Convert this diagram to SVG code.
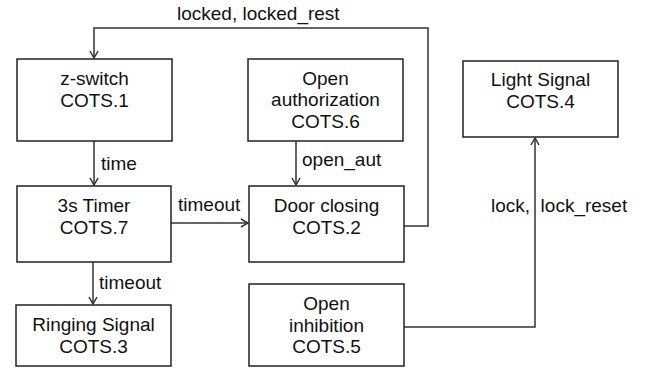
<svg xmlns="http://www.w3.org/2000/svg" width="647" height="368" viewBox="0 0 647 368">
<style>
.box{fill:#fff;stroke:#222;stroke-width:1.5}
.t{font-family:"Liberation Sans",Arial,sans-serif;font-size:19px;fill:#111;text-anchor:middle}
.l{font-family:"Liberation Sans",Arial,sans-serif;font-size:19px;fill:#111}
.c{fill:none;stroke:#333;stroke-width:1.5}
</style>
<defs>
<marker id="a" viewBox="0 0 10 10" refX="9" refY="5" markerWidth="10" markerHeight="10" markerUnits="userSpaceOnUse" orient="auto">
<polyline points="2,1 9,5 2,9" fill="none" stroke="#333" stroke-width="1.5"/>
</marker>
</defs>
<g id="connectors">
<polyline class="c" points="404,226 428,226 428,28 94,28 94,58" marker-end="url(#a)"/>
<line class="c" x1="94" y1="141" x2="94" y2="185" marker-end="url(#a)"/>
<line class="c" x1="296" y1="141" x2="296" y2="185" marker-end="url(#a)"/>
<line class="c" x1="171" y1="223" x2="248" y2="223" marker-end="url(#a)"/>
<line class="c" x1="93" y1="262" x2="93" y2="304" marker-end="url(#a)"/>
<polyline class="c" points="404,327 535,327 535,138" marker-end="url(#a)"/>
<text class="l" x="177" y="20">locked, locked_rest</text>
<text class="l" x="101" y="170">time</text>
<text class="l" x="302" y="166">open_aut</text>
<text class="l" x="178" y="211">timeout</text>
<text class="l" x="99" y="289">timeout</text>
<text class="l" x="491" y="212" xml:space="preserve">lock,  lock_reset</text>
</g>
<g id="zswitch">
<rect class="box" x="17" y="59" width="155" height="82"/>
<text class="t" x="94.5" y="85">z-switch</text>
<text class="t" x="94.5" y="107">COTS.1</text>
</g>
<g id="openauth">
<rect class="box" x="248" y="59" width="155" height="82"/>
<text class="t" x="325.5" y="85">Open</text>
<text class="t" x="325.5" y="106">authorization</text>
<text class="t" x="325.5" y="128">COTS.6</text>
</g>
<g id="timer">
<rect class="box" x="17" y="186" width="154" height="76"/>
<text class="t" x="94" y="212">3s Timer</text>
<text class="t" x="94" y="234">COTS.7</text>
</g>
<g id="doorclosing">
<rect class="box" x="249" y="186" width="155" height="76"/>
<text class="t" x="326.5" y="212">Door closing</text>
<text class="t" x="326.5" y="234">COTS.2</text>
</g>
<g id="ringing">
<rect class="box" x="16" y="305" width="155" height="61"/>
<text class="t" x="93.5" y="331">Ringing Signal</text>
<text class="t" x="93.5" y="353">COTS.3</text>
</g>
<g id="inhibition">
<rect class="box" x="249" y="284" width="155" height="82"/>
<text class="t" x="326.5" y="310">Open</text>
<text class="t" x="326.5" y="332">inhibition</text>
<text class="t" x="326.5" y="353">COTS.5</text>
</g>
<g id="light">
<rect class="box" x="463" y="61" width="155" height="76"/>
<text class="t" x="540.5" y="86">Light Signal</text>
<text class="t" x="540.5" y="108">COTS.4</text>
</g>
</svg>
